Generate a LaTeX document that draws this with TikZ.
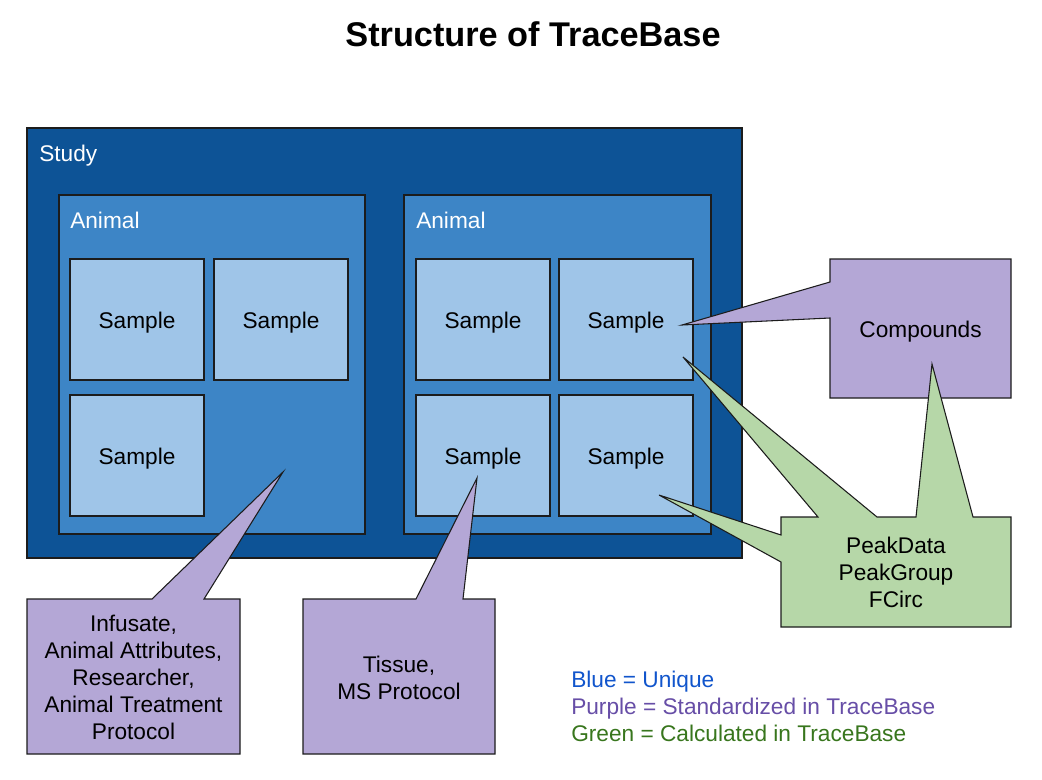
\documentclass[tikz,border=0pt]{standalone}
\usepackage{fontspec}
\setmainfont{Liberation Sans}
\definecolor{studyc}{HTML}{0D5396}
\definecolor{animalc}{HTML}{3D85C6}
\definecolor{samplec}{HTML}{9FC5E8}
\definecolor{purplec}{HTML}{B4A7D6}
\definecolor{greenc}{HTML}{B6D7A8}
\definecolor{edgec}{HTML}{1C1C1C}
\definecolor{legblue}{HTML}{1155CC}
\definecolor{legpurple}{HTML}{674EA7}
\definecolor{leggreen}{HTML}{38761D}
\begin{document}
\begin{tikzpicture}[x=0.75pt,y=-0.75pt,
  box/.style={draw=edgec,line width=0.8pt,line join=miter},
  studybox/.style={box,fill=studyc},
  animalbox/.style={box,fill=animalc},
  samplebox/.style={box,fill=samplec},
  purplebox/.style={box,fill=purplec},
  greenbox/.style={box,fill=greenc},
  txt/.style={font=\fontsize{17}{20.25}\selectfont,inner sep=0pt,align=center,text=black},
  btxt/.style={txt,anchor=base},
  wtxt/.style={font=\fontsize{17}{20.25}\selectfont,inner sep=0pt,text=white,anchor=base west},
  legtxt/.style={font=\fontsize{17}{20.25}\selectfont,inner sep=0pt,anchor=base west}]
\useasboundingbox (0,0) rectangle (1042,779);
\fill[white] (0,0) rectangle (1042,779);
% title
\node[font=\fontsize{25.7}{30}\selectfont\bfseries,anchor=base,inner sep=0pt] (title) at (533,46) {Structure of TraceBase};
% study
\path[studybox] (27,128) rectangle (742,558);
\node[wtxt] (study) at (39,161) {Study};
% animals
\path[animalbox] (59,195) rectangle (365,534);
\node[wtxt] (animalL) at (70,228) {Animal};
\path[animalbox] (404,195) rectangle (711,534);
\node[wtxt] (animalR) at (416,228) {Animal};
% samples
\path[samplebox] (70,259) rectangle (204,380);
\node[btxt] (sL1) at (137,328) {Sample};
\path[samplebox] (214,259) rectangle (348,380);
\node[btxt] (sL2) at (281,328) {Sample};
\path[samplebox] (70,395) rectangle (204,516);
\node[btxt] (sL3) at (137,464) {Sample};
\path[samplebox] (416,259) rectangle (550,380);
\node[btxt] (sR1) at (483,328) {Sample};
\path[samplebox] (559,259) rectangle (693,380);
\node[btxt] (sR2) at (626,328) {Sample};
\path[samplebox] (416,395) rectangle (550,516);
\node[btxt] (sR3) at (483,464) {Sample};
\path[samplebox] (559,395) rectangle (693,516);
\node[btxt] (sR4) at (626,464) {Sample};
% pointer tips
\coordinate (tipComp) at (682,325);
\coordinate (tipPD1) at (683,357);
\coordinate (tipPD2) at (932,364);
\coordinate (tipPD3) at (659,495);
\coordinate (tipInf) at (283,472);
\coordinate (tipTis) at (477,478);
% compounds callout
\path[purplebox] (830,259) -- (1011,259) -- (1011,398) -- (830,398) -- (830,318) -- (tipComp) -- (830,282) -- cycle;
\node[btxt] (comp) at (920.5,337) {Compounds};
% peakdata callout
\path[greenbox] (781,517) -- (818,517) -- (tipPD1) -- (877,517) -- (916,517) -- (tipPD2) -- (973,517)
  -- (1011,517) -- (1011,627) -- (781,627) -- (781,562) -- (tipPD3) -- (781,535) -- cycle;
\node[txt] (pd) at (896,572) {PeakData\\PeakGroup\\FCirc};
% infusate callout
\path[purplebox] (27,599) -- (152,599) -- (tipInf) -- (204,599) -- (240,599) -- (240,754) -- (27,754) -- cycle;
\node[txt] (inf) at (133.5,677.5) {Infusate,\\Animal Attributes,\\Researcher,\\Animal Treatment\\Protocol};
% tissue callout
\path[purplebox] (303,599) -- (416,599) -- (tipTis) -- (463,599) -- (495,599) -- (495,754) -- (303,754) -- cycle;
\node[txt] (tis) at (399,677.5) {Tissue,\\MS Protocol};
% legend
\node[legtxt,text=legblue] (lg1) at (571,687) {Blue = Unique};
\node[legtxt,text=legpurple] (lg2) at (571,714) {Purple = Standardized in TraceBase};
\node[legtxt,text=leggreen] (lg3) at (571,741) {Green = Calculated in TraceBase};
\end{tikzpicture}
\end{document}
